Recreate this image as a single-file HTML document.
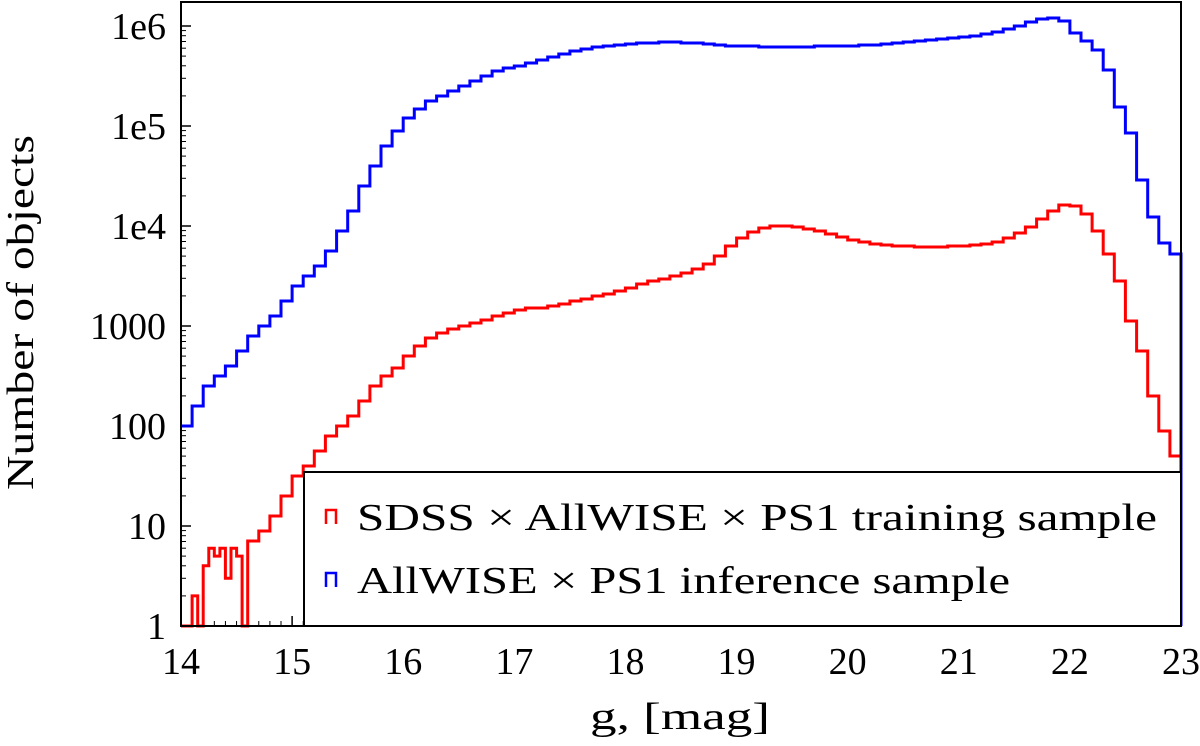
<!DOCTYPE html>
<html><head><meta charset="utf-8"><style>
html,body{margin:0;padding:0;background:#fff;}
svg{display:block;font-family:"Liberation Serif","DejaVu Serif",serif;}
</style></head><body>
<svg id="chart" width="1200" height="746" viewBox="0 0 1200 746">
<g id="axes"></g>
<g id="series"></g>
<rect x="181" y="2" width="1000" height="624" fill="none" stroke="#000" stroke-width="2"/>
<g>
<rect x="304" y="472" width="877" height="154" fill="#fff" stroke="#000" stroke-width="2"/>
<path d="M326,524 V510 H336 V524" fill="none" stroke="#f00" stroke-width="2.5"/>
<text x="357" y="530" font-size="38" textLength="800" lengthAdjust="spacingAndGlyphs">SDSS × AllWISE × PS1 training sample</text>
<path d="M326,587 V573 H336 V587" fill="none" stroke="#00f" stroke-width="2.5"/>
<text x="357" y="593" font-size="38" textLength="653" lengthAdjust="spacingAndGlyphs">AllWISE × PS1 inference sample</text>
</g>
<text x="590" y="729" font-size="38" textLength="180" lengthAdjust="spacingAndGlyphs">g, [mag]</text>
<text transform="translate(33,490) rotate(-90)" font-size="38" textLength="355" lengthAdjust="spacingAndGlyphs">Number of objects</text>
</svg>
<script>
const xTicks=[14,15,16,17,18,19,20,21,22,23];
const yTicks=[1,10,100,1000,1e4,1e5,1e6];
const yTickLabels=["1","10","100","1000","1e4","1e5","1e6"];
const binWidth=0.1;
const blueStart=14.0;
const blueLog=[2.0,2.2,2.4,2.5,2.6,2.75,2.9,3.0,3.1,3.25,
3.4,3.5,3.6,3.75,3.95,4.15,4.4,4.6,4.8,4.95,
5.08,5.17,5.25,5.3,5.35,5.4,5.45,5.5,5.55,5.58,
5.6,5.63,5.66,5.69,5.72,5.75,5.77,5.79,5.8,5.81,
5.82,5.83,5.83,5.84,5.84,5.83,5.83,5.82,5.81,5.8,
5.8,5.8,5.79,5.79,5.79,5.79,5.79,5.8,5.8,5.8,
5.8,5.81,5.81,5.82,5.83,5.84,5.85,5.86,5.87,5.88,
5.89,5.9,5.92,5.94,5.97,6.0,6.04,6.07,6.08,6.05,
5.93,5.85,5.76,5.56,5.19,4.93,4.46,4.09,3.83,3.72];
const redEarlyStart=14.0, redEarlyWidth=0.05;
const redEarlyCounts=[1,1,2,1,4,6,5,6,3,6,5,1];
const redStart=14.6;
const redLog=[0.85,0.95,1.1,1.3,
1.5,1.6,1.75,1.9,2.0,2.1,2.25,2.4,2.5,2.58,
2.7,2.8,2.88,2.93,2.97,3.0,3.03,3.06,3.1,3.13,
3.16,3.18,3.18,3.2,3.22,3.25,3.27,3.3,3.32,3.35,
3.38,3.42,3.45,3.47,3.5,3.53,3.57,3.62,3.7,3.8,
3.88,3.94,3.98,4.0,4.0,3.99,3.97,3.95,3.92,3.89,
3.86,3.84,3.82,3.81,3.8,3.8,3.79,3.79,3.79,3.8,
3.8,3.81,3.82,3.84,3.88,3.93,3.99,4.07,4.15,4.21,
4.2,4.12,3.95,3.72,3.45,3.05,2.75,2.3,1.95,1.7];

const NS="http://www.w3.org/2000/svg";
const X=v=>181+(v-14)*1000/9;
const Y=c=>626-Math.log10(Math.max(c,1))*100;
function mk(tag,attrs,parent){const e=document.createElementNS(NS,tag);for(const k in attrs)e.setAttribute(k,attrs[k]);parent.appendChild(e);return e;}
const axes=document.getElementById('axes');
xTicks.forEach(t=>{
  const l=mk('line',{x1:X(t),x2:X(t),y1:626,y2:616,stroke:'#000','stroke-width':1.5},axes);
  
  
  const tx=mk('text',{x:X(t),y:674,'font-size':38,'text-anchor':'middle'},axes);
  tx.textContent=t;
  
  
  if(t<23)for(let k=1;k<10;k++){
    const m=mk('line',{x1:X(t+k/10),x2:X(t+k/10),y1:626,y2:621,stroke:'#000','stroke-width':1},axes);
    
    
  }
});
yTicks.forEach((t,i)=>{
  const l=mk('line',{x1:181,x2:191,y1:Y(t),y2:Y(t),stroke:'#000','stroke-width':1.5},axes);
  
  
  const tx=mk('text',{x:166,y:Y(t)+13,'font-size':38,'text-anchor':'end'},axes);
  tx.textContent=yTickLabels[i];
  
  
  for(let k=2;k<10;k++){const v=t*k;if(Y(v)<2)break;
    const m=mk('line',{x1:181,x2:186,y1:Y(v),y2:Y(v),stroke:'#000','stroke-width':1},axes);
    
    
  }
});
function stepPath(edges,counts){
  let d='M'+X(edges[0])+','+Y(1);
  counts.forEach((c,i)=>{d+=' V'+Y(c).toFixed(1)+' H'+X(edges[i]+edges.w).toFixed(1);});
  return d;
}
const ser=document.getElementById('series');
const rEdges=redEarlyCounts.map((c,i)=>redEarlyStart+i*redEarlyWidth);rEdges.w=redEarlyWidth;
let dRed=stepPath(rEdges,redEarlyCounts);
redLog.forEach((v,i)=>{dRed+=' V'+Y(Math.pow(10,v)).toFixed(1)+' H'+X(redStart+(i+1)*binWidth).toFixed(1);});
dRed+=' V'+Y(1);
const pr=mk('path',{d:dRed,fill:'none',stroke:'#f00','stroke-width':3},ser);


let dBlue='M'+X(blueStart)+','+Y(Math.pow(10,blueLog[0]));
blueLog.forEach((v,i)=>{dBlue+=' V'+Y(Math.pow(10,v)).toFixed(1)+' H'+X(blueStart+(i+1)*binWidth).toFixed(1);});
dBlue+=' V'+Y(1);
const pb=mk('path',{d:dBlue,fill:'none',stroke:'#00f','stroke-width':3},ser);


</script>
</body></html>
